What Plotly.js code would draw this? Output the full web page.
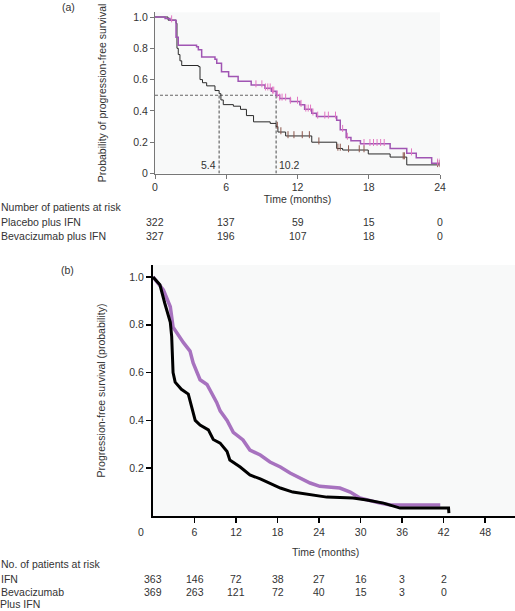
<!DOCTYPE html>
<html>
<head>
<meta charset="utf-8">
<script src="https://cdn.plot.ly/plotly-3.0.1.min.js"></script>
<style>html,body{margin:0;padding:0;background:#fff;}#chart{width:515px;height:611px;}</style>
</head>
<body>
<div id="chart"></div>
<script>
// ---------- Panel (a) data ----------
const placeboT = [0, 1.1, 1.77, 1.85, 1.96, 2.1, 2.25, 3.65, 3.79, 4.0, 4.35, 5.05, 5.4, 5.55, 5.75, 6.6, 7.2, 7.7, 8.3, 9.7, 10.2, 10.35, 11.0, 13.2, 15.3, 15.8, 17.96, 19.8, 21.2, 24];
const placeboS = [1.0, 0.98, 0.96, 0.80, 0.76, 0.72, 0.69, 0.683, 0.60, 0.58, 0.56, 0.53, 0.51, 0.47, 0.44, 0.43, 0.41, 0.37, 0.33, 0.32, 0.30, 0.265, 0.24, 0.20, 0.16, 0.15, 0.125, 0.105, 0.055, 0.055];
const bevT = [0, 0.85, 1.26, 1.77, 1.96, 3.5, 3.65, 3.93, 5.05, 5.2, 5.6, 6.2, 7.0, 8.1, 9.26, 9.8, 10.2, 10.5, 11.4, 12.2, 12.6, 13.2, 13.6, 15.3, 15.6, 16.1, 16.5, 17.3, 19.8, 21.2, 22.0, 23.3, 24];
const bevS = [1.0, 0.99, 0.98, 0.87, 0.82, 0.81, 0.79, 0.745, 0.73, 0.705, 0.65, 0.62, 0.59, 0.565, 0.545, 0.525, 0.50, 0.48, 0.46, 0.44, 0.41, 0.385, 0.365, 0.34, 0.28, 0.23, 0.21, 0.19, 0.16, 0.13, 0.10, 0.065, 0.065];
const placeboCensorT = [10.3, 10.6, 11.2, 11.7, 12.4, 13.0, 13.8, 15.4, 15.6, 16.3, 17.2, 17.6, 20.9, 21.0, 23.8, 24.0];
const bevCensorT = [1.4, 8.5, 9.0, 9.3, 9.5, 9.7, 9.9, 10.0, 10.3, 10.5, 10.7, 11.0, 11.4, 12.0, 12.3, 12.7, 12.9, 13.1, 13.3, 13.7, 14.3, 14.6, 15.2, 15.8, 16.2, 17.6, 18.1, 18.4, 18.7, 19.0, 19.3, 21.6, 23.8, 24.0];
const medianTimes = [5.4, 10.2];
const medianLevel = 0.5;
const riskTimesA = [0, 6, 12, 18, 24];
const riskPlaceboA = [322, 137, 59, 15, 0];
const riskBevA = [327, 196, 107, 18, 0];

// ---------- Panel (b) data ----------
const ifnT = [0, 1.0, 1.7, 2.5, 2.7, 2.9, 3.2, 4.1, 5.1, 5.6, 6.1, 6.8, 8.0, 8.7, 9.7, 10.7, 11.1, 12.6, 14.0, 15.5, 16.9, 18.4, 20.2, 22.2, 24.1, 25.1, 28.9, 30.9, 33.3, 35.7, 42.7, 42.75];
const ifnS = [1.0, 0.967, 0.89, 0.81, 0.75, 0.60, 0.56, 0.53, 0.51, 0.46, 0.40, 0.38, 0.36, 0.32, 0.305, 0.27, 0.234, 0.205, 0.172, 0.155, 0.138, 0.117, 0.10, 0.092, 0.082, 0.079, 0.075, 0.067, 0.054, 0.033, 0.033, 0.012];
const bevIfnT = [0, 1.5, 2.5, 2.9, 4.4, 5.35, 5.8, 6.3, 6.8, 7.8, 8.5, 9.2, 9.7, 10.7, 11.6, 13.0, 14.0, 15.5, 16.9, 18.4, 19.8, 21.3, 22.7, 24.1, 25.6, 27.0, 28.5, 29.9, 32.8, 34.3, 41.5];
const bevIfnS = [1.0, 0.946, 0.875, 0.79, 0.725, 0.69, 0.64, 0.60, 0.57, 0.55, 0.515, 0.475, 0.44, 0.40, 0.35, 0.318, 0.276, 0.255, 0.226, 0.205, 0.18, 0.159, 0.138, 0.124, 0.12, 0.117, 0.10, 0.075, 0.054, 0.046, 0.046];
const riskTimesB = [0, 6, 12, 18, 24, 30, 36, 42];
const riskIfnB = [363, 146, 72, 38, 27, 16, 3, 2];
const riskBevB = [369, 263, 121, 72, 40, 15, 3, 0];

// ---------- helpers ----------
const W = 515, H = 611;
const fx = p => p / W;
const fy = p => 1 - p / H;
function stepAt(ts, ss, t) { let v = ss[0]; for (let i = 0; i < ts.length; i++) { if (ts[i] <= t) v = ss[i]; } return v; }

const FONT = 'Liberation Sans, Arial, sans-serif';
const TXT = '#333';
const PURPLE_A = '#a055b3';
const PURPLE_B = '#a772bf';

const traces = [
  // medians dashed
  {x: [0, medianTimes[1]], y: [medianLevel, medianLevel], xaxis: 'x', yaxis: 'y', mode: 'lines', line: {color: '#666', width: 1.2, dash: '3px,2px'}, hoverinfo: 'skip', showlegend: false},
  {x: [medianTimes[0], medianTimes[0]], y: [0, medianLevel], xaxis: 'x', yaxis: 'y', mode: 'lines', line: {color: '#666', width: 1.2, dash: '3px,2px'}, hoverinfo: 'skip', showlegend: false},
  {x: [medianTimes[1], medianTimes[1]], y: [0, medianLevel], xaxis: 'x', yaxis: 'y', mode: 'lines', line: {color: '#666', width: 1.2, dash: '3px,2px'}, hoverinfo: 'skip', showlegend: false},
  {x: placeboT, y: placeboS, xaxis: 'x', yaxis: 'y', mode: 'lines', line: {shape: 'hv', color: '#2a2a2a', width: 1}, name: 'Placebo plus IFN', showlegend: false},
  {x: bevT, y: bevS, xaxis: 'x', yaxis: 'y', mode: 'lines', line: {shape: 'hv', color: PURPLE_A, width: 1.5}, name: 'Bevacizumab plus IFN', showlegend: false},
  {x: placeboCensorT, y: placeboCensorT.map(t => stepAt(placeboT, placeboS, t) + 0.008), xaxis: 'x', yaxis: 'y', mode: 'markers', marker: {symbol: 'line-ns-open', size: 5, line: {color: '#2a2a2a', width: 1}}, hoverinfo: 'skip', showlegend: false},
  {x: bevCensorT, y: bevCensorT.map(t => stepAt(bevT, bevS, t) + 0.008), xaxis: 'x', yaxis: 'y', mode: 'markers', marker: {symbol: 'line-ns-open', size: 5, line: {color: PURPLE_A, width: 1}}, hoverinfo: 'skip', showlegend: false},
  // panel b
  {x: bevIfnT, y: bevIfnS, xaxis: 'x2', yaxis: 'y2', mode: 'lines', line: {shape: 'linear', color: PURPLE_B, width: 3.5, dash: 'solid'}, name: 'Bevacizumab plus IFN', showlegend: false},
  {x: ifnT, y: ifnS, xaxis: 'x2', yaxis: 'y2', mode: 'lines', line: {shape: 'linear', color: '#000', width: 3}, name: 'IFN', showlegend: false}
];

const ann = [];
function txt(text, x, y, opts) {
  ann.push(Object.assign({text: text, x: x, y: y, xref: 'paper', yref: 'paper', showarrow: false, xanchor: 'left', yanchor: 'middle', font: {family: FONT, size: 10.5, color: TXT}}, opts || {}));
}
txt('(a)', fx(60), fy(7));
txt('(b)', fx(59), fy(270));
// median labels
ann.push({text: '5.4', x: medianTimes[0], y: 0.054, xref: 'x', yref: 'y', showarrow: false, xanchor: 'right', yanchor: 'middle', xshift: -1, font: {family: FONT, size: 10.5, color: TXT}});
ann.push({text: '10.2', x: medianTimes[1], y: 0.054, xref: 'x', yref: 'y', showarrow: false, xanchor: 'left', yanchor: 'middle', xshift: 1, font: {family: FONT, size: 10.5, color: TXT}});
// risk table a
txt('Number of patients at risk', fx(-1), fy(207));
txt('Placebo plus IFN', fx(-1), fy(221.7));
txt('Bevacizumab plus IFN', fx(-1), fy(236));
riskTimesA.forEach((t, i) => {
  ann.push({text: String(riskPlaceboA[i]), x: t, y: fy(221.7), xref: 'x', yref: 'paper', showarrow: false, xanchor: 'center', yanchor: 'middle', font: {family: FONT, size: 10.5, color: TXT}});
  ann.push({text: String(riskBevA[i]), x: t, y: fy(236), xref: 'x', yref: 'paper', showarrow: false, xanchor: 'center', yanchor: 'middle', font: {family: FONT, size: 10.5, color: TXT}});
});
// panel b extra labels
txt('0', fx(141), fy(532), {xanchor: 'center'});
txt('Time (months)', fx(325), fy(552), {xanchor: 'center'});
txt('No. of patients at risk', fx(-1), fy(564));
txt('IFN', fx(-1), fy(578.5));
txt('Bevacizumab', fx(-1), fy(592));
txt('Plus IFN', fx(-1), fy(611), {yanchor: 'bottom', borderpad: 0});
riskTimesB.forEach((t, i) => {
  ann.push({text: String(riskIfnB[i]), x: t, y: fy(578.5), xref: 'x2', yref: 'paper', showarrow: false, xanchor: 'center', yanchor: 'middle', font: {family: FONT, size: 10.5, color: TXT}});
  ann.push({text: String(riskBevB[i]), x: t, y: fy(592), xref: 'x2', yref: 'paper', showarrow: false, xanchor: 'center', yanchor: 'middle', font: {family: FONT, size: 10.5, color: TXT}});
});

const tickFont = {family: FONT, size: 10.5, color: TXT};
const layout = {
  width: W, height: H,
  margin: {l: 0, r: 0, t: 0, b: 0},
  paper_bgcolor: '#ffffff',
  plot_bgcolor: '#f8f9f9',
  showlegend: false,
  font: {family: FONT, size: 10.5, color: TXT},
  xaxis: {
    domain: [fx(155), fx(440)], range: [0, 24], anchor: 'y',
    tickvals: riskTimesA, ticktext: riskTimesA.map(String),
    ticks: 'outside', ticklen: 4, tickcolor: '#777', tickwidth: 1,
    showline: true, linecolor: '#777', linewidth: 1,
    showgrid: false, zeroline: false, tickfont: tickFont,
    title: {text: 'Time (months)', font: {family: FONT, size: 10.5, color: TXT}, standoff: 3},
    automargin: false, fixedrange: true
  },
  yaxis: {
    domain: [fy(173.5), fy(12.3)], range: [0, 1.03], anchor: 'x',
    tickvals: [0, 0.2, 0.4, 0.6, 0.8, 1.0], ticktext: ['0', '0.2', '0.4', '0.6', '0.8', '1.0'],
    ticks: 'outside', ticklen: 4, tickcolor: '#777', tickwidth: 1,
    showline: true, linecolor: '#777', linewidth: 1,
    showgrid: false, zeroline: false, tickfont: tickFont,
    title: {text: 'Probability of progression-free survival', font: {family: FONT, size: 10.5, color: TXT}, standoff: 24},
    automargin: false, fixedrange: true
  },
  xaxis2: {
    domain: [fx(153), 1], range: [0, 52.3], anchor: 'y2',
    tickvals: [6, 12, 18, 24, 30, 36, 42, 48], ticktext: ['6', '12', '18', '24', '30', '36', '42', '48'],
    ticks: 'outside', ticklen: 5, tickcolor: '#000', tickwidth: 1.5,
    showline: true, linecolor: '#000', linewidth: 2,
    showgrid: false, zeroline: false, tickfont: tickFont,
    automargin: false, fixedrange: true
  },
  yaxis2: {
    domain: [fy(516), fy(265)], range: [0, 1.05], anchor: 'x2',
    tickvals: [0.2, 0.4, 0.6, 0.8, 1.0], ticktext: ['0.2', '0.4', '0.6', '0.8', '1.0'],
    ticks: 'outside', ticklen: 5, tickcolor: '#000', tickwidth: 1.5,
    showline: true, linecolor: '#000', linewidth: 2,
    showgrid: false, zeroline: false, tickfont: tickFont,
    title: {text: 'Progression-free survival (probability)', font: {family: FONT, size: 10.5, color: TXT}, standoff: 22},
    automargin: false, fixedrange: true
  },
  annotations: ann
};

Plotly.newPlot('chart', traces, layout, {staticPlot: true, displayModeBar: false});
</script>
</body>
</html>
